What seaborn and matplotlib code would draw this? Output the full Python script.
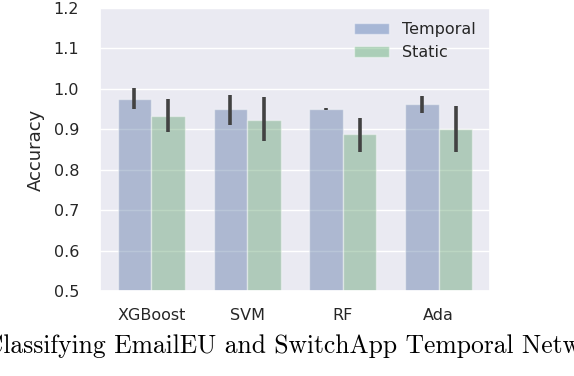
import matplotlib
matplotlib.use("Agg")
import matplotlib.pyplot as plt
from matplotlib.patches import Patch
import pandas as pd
import seaborn as sns

# Values
models = ["XGBoost", "SVM", "RF", "Ada"]
series = ["Temporal", "Static"]
temporal_acc = [0.975, 0.950, 0.950, 0.962]
temporal_lo = [0.951, 0.911, 0.948, 0.941]
temporal_hi = [1.001, 0.986, 0.952, 0.982]
static_acc = [0.933, 0.923, 0.888, 0.900]
static_lo = [0.894, 0.872, 0.845, 0.845]
static_hi = [0.976, 0.979, 0.929, 0.957]
y_ticks = [0.5, 0.6, 0.7, 0.8, 0.9, 1.0, 1.1, 1.2]
caption = "Classifying EmailEU and SwitchApp Temporal Networks"

df = pd.DataFrame({
    "model": models * 2,
    "kind": [series[0]] * len(models) + [series[1]] * len(models),
    "acc": temporal_acc + static_acc,
    "lo": temporal_lo + static_lo,
    "hi": temporal_hi + static_hi,
})

sns.set_theme(style="darkgrid")
plt.rcParams["font.family"] = ["DejaVu Sans"]

fig = plt.figure(figsize=(5.74, 3.76), dpi=100)
ax = fig.add_axes([100 / 574, 1 - 291 / 376, 390 / 574, 283 / 376])

# old seaborn "deep" blue and green
palette = ["#4C72B0", "#55A868"]
sns.barplot(
    data=df, x="model", y="acc", hue="kind",
    order=models, hue_order=series,
    palette=palette, alpha=0.42, width=0.7,
    errorbar=None, legend=False, ax=ax,
)

# error bars drawn at the centre of each bar
for patch, (_, row) in zip(ax.patches, df.iterrows()):
    x = patch.get_x() + patch.get_width() / 2
    ax.vlines(x, row["lo"], row["hi"], color=".26", lw=2.6, zorder=5)

ax.set_ylim(0.5, 1.2)
ax.set_yticks(y_ticks)
ax.set_yticklabels([f"{t:.1f}" for t in y_ticks])
ax.tick_params(axis="both", labelsize=11.5, colors=".15")
ax.tick_params(axis="y", pad=9)
ax.tick_params(axis="x", pad=6)
ax.set_xlabel("")
ax.set_ylabel("Accuracy", fontsize=13, color=".15", labelpad=6)

handles = [Patch(facecolor=c, alpha=0.42, label=s) for c, s in zip(palette, series)]
ax.legend(handles=handles, loc="upper right", frameon=False, fontsize=11.5,
          handlelength=2.2)

# figure caption, cut off at both edges as in the paper crop
fig.text(-15 / 574, 1 - 353 / 376, caption, fontfamily="cmr10", fontsize=18.4,
         ha="left", va="baseline", color="black")

fig.savefig("out.png", dpi=100)
